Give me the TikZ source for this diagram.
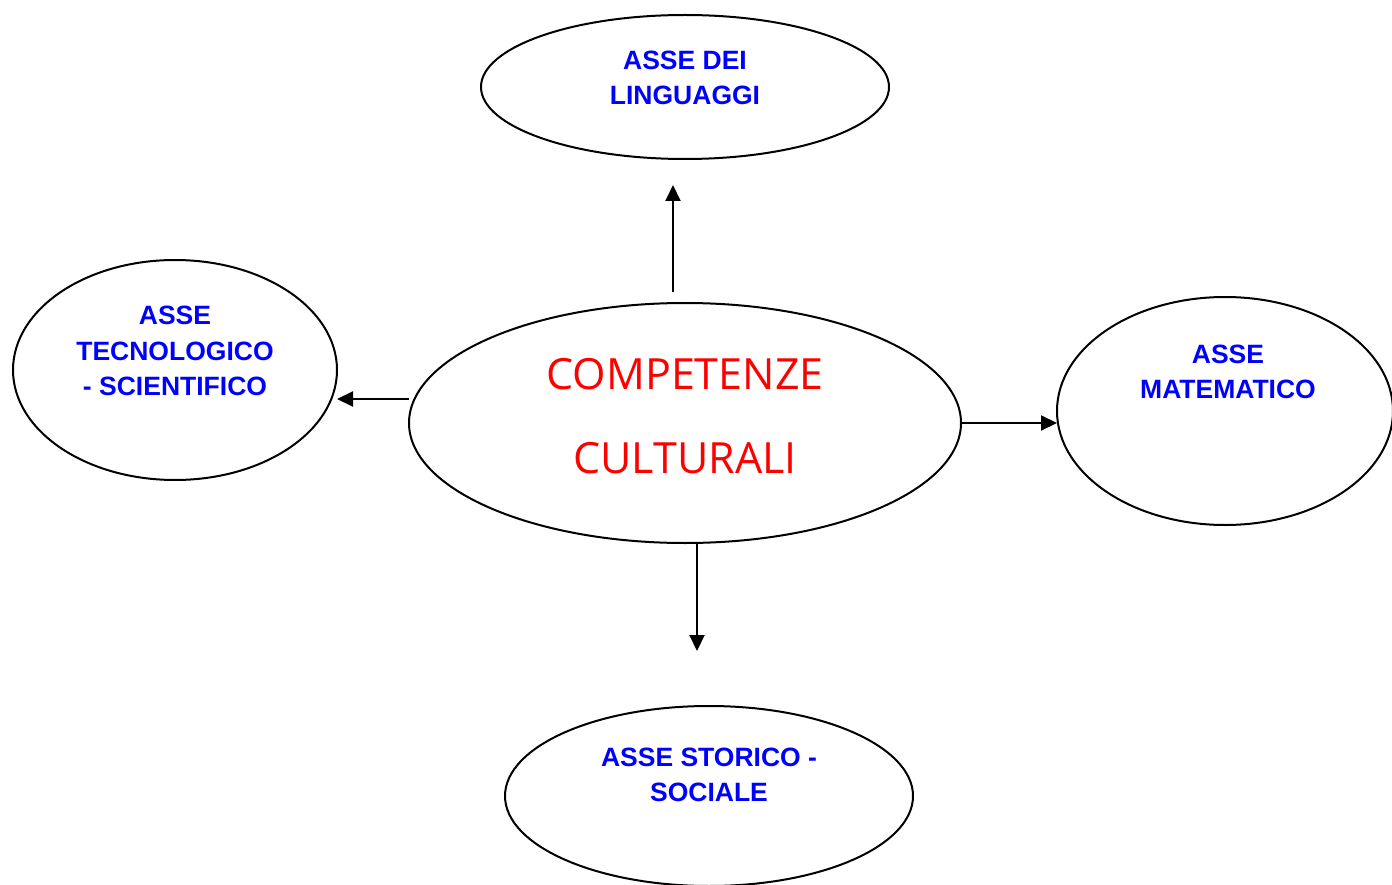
\documentclass[tikz,border=0pt]{standalone}
\usepackage{fontspec}
\setmainfont{Liberation Sans}
\newfontfamily\centfont{Open Sans}
\usetikzlibrary{shapes.geometric,arrows.meta}
\begin{document}
\begin{tikzpicture}[x=1pt,y=-1pt,
  oval/.style={draw=black,line width=2pt,ellipse,inner sep=0pt},
  axis/.style={text=blue,font=\fontsize{26.5}{35.5}\selectfont\bfseries,align=center,inner sep=0pt},
  core/.style={text=red,font=\centfont\fontsize{43}{84}\selectfont,align=center,inner sep=0pt},
  arr/.style={line width=2pt,-{Triangle[length=16pt,width=15pt]}}]
\useasboundingbox (0,0) rectangle (1392,885);
\node[oval,minimum width=408pt,minimum height=144pt] (top) at (685,87) {};
\node[oval,minimum width=324pt,minimum height=220pt] (left) at (175,370) {};
\node[oval,minimum width=336pt,minimum height=228pt] (right) at (1225,411) {};
\node[oval,minimum width=408pt,minimum height=180pt] (bottom) at (709,796) {};
\node[oval,minimum width=552pt,minimum height=240pt] (center) at (685,423) {};
\node[axis] (ttop) at (685,78) {ASSE DEI\\LINGUAGGI};
\node[axis] (tleft) at (175,351) {ASSE\\TECNOLOGICO\\- SCIENTIFICO};
\node[axis] (tright) at (1228,372) {ASSE\\MATEMATICO};
\node[axis] (tbottom) at (709,775) {ASSE STORICO -\\SOCIALE};
\node[core] (tcenter) at (685,416) {COMPETENZE\\CULTURALI};
\coordinate (upS) at (673,292);
\coordinate (upE) at (673,185);
\coordinate (lS) at (409,399);
\coordinate (lE) at (337,399);
\coordinate (rS) at (961,423);
\coordinate (rE) at (1057,423);
\coordinate (dS) at (697,543);
\coordinate (dE) at (697,651);
\draw[arr] (upS) -- (upE);
\draw[arr] (lS) -- (lE);
\draw[arr] (rS) -- (rE);
\draw[arr] (dS) -- (dE);
\end{tikzpicture}
\end{document}
